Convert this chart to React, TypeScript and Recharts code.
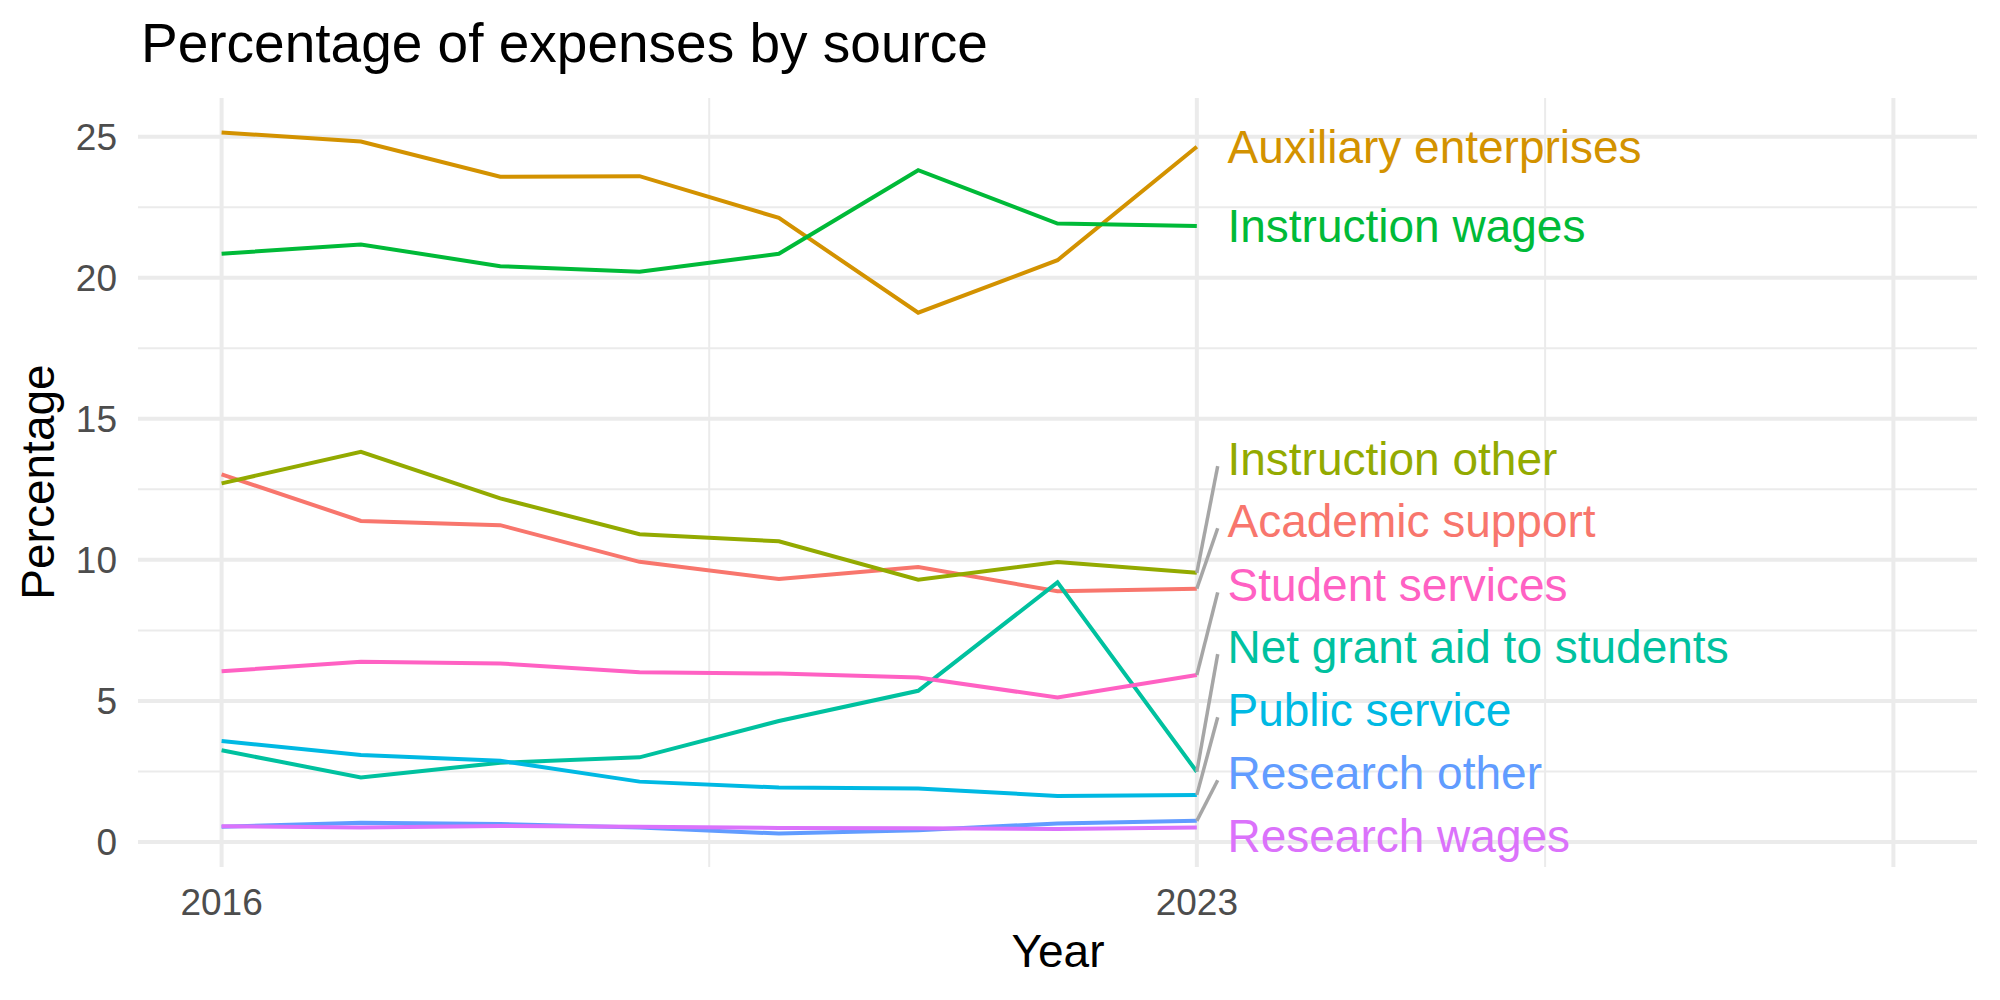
import React from "react";
import {
  CartesianGrid,
  Line,
  LineChart,
  ReferenceDot,
  ReferenceLine,
  XAxis,
  YAxis,
} from "recharts";

const FONT = "'Liberation Sans', Arial, Helvetica, sans-serif";

const years = [2016, 2017, 2018, 2019, 2020, 2021, 2022, 2023];
const academicSupport = [13.03, 11.38, 11.23, 9.93, 9.32, 9.75, 8.89, 8.98];
const auxiliaryEnterprises = [25.15, 24.83, 23.58, 23.6, 22.12, 18.76, 20.62, 24.64];
const instructionOther = [12.71, 13.83, 12.18, 10.91, 10.66, 9.3, 9.92, 9.54];
const instructionWages = [20.85, 21.18, 20.41, 20.21, 20.85, 23.81, 21.92, 21.83];
const netGrantAid = [3.25, 2.29, 2.81, 3.0, 4.29, 5.36, 9.2, 2.49];
const publicService = [3.58, 3.08, 2.88, 2.14, 1.93, 1.9, 1.63, 1.67];
const researchOther = [0.54, 0.68, 0.64, 0.51, 0.3, 0.42, 0.66, 0.75];
const researchWages = [0.56, 0.51, 0.57, 0.54, 0.5, 0.49, 0.46, 0.51];
const studentServices = [6.05, 6.39, 6.33, 6.02, 5.97, 5.83, 5.12, 5.92];

// where the repelled labels ended up (percentage units)
const labelY = [11.37, 24.63, 13.57, 21.83, 6.91, 4.67, 2.44, 0.21, 9.1];

const yTicks = [0, 5, 10, 15, 20, 25];
const yMinor = [2.5, 7.5, 12.5, 17.5, 22.5];
const xTicks = [2016, 2023];
const xMajor = [2016, 2023, 2028];
const xMinor = [2019.5, 2025.5];

const series = [
  { key: "academic", name: "Academic support", values: academicSupport, color: "#F8766D" },
  { key: "auxiliary", name: "Auxiliary enterprises", values: auxiliaryEnterprises, color: "#D39200" },
  { key: "instrOther", name: "Instruction other", values: instructionOther, color: "#93AA00" },
  { key: "instrWages", name: "Instruction wages", values: instructionWages, color: "#00BA38" },
  { key: "netGrant", name: "Net grant aid to students", values: netGrantAid, color: "#00C19F" },
  { key: "public", name: "Public service", values: publicService, color: "#00B9E3" },
  { key: "resOther", name: "Research other", values: researchOther, color: "#619CFF" },
  { key: "resWages", name: "Research wages", values: researchWages, color: "#DB72FB" },
  { key: "student", name: "Student services", values: studentServices, color: "#FF61C3" },
];

const data = years.map((year, i) => {
  const row: Record<string, number> = { year };
  series.forEach((s) => (row[s.key] = s.values[i]));
  return row;
});

const lastYear = years[years.length - 1];

export default function App() {
  return (
    <div
      style={{
        position: "absolute",
        left: 0,
        top: 0,
        width: 2000,
        height: 1000,
        background: "#fff",
        fontFamily: FONT,
      }}
    >
      <LineChart
        width={2000}
        height={1000}
        data={data}
        margin={{ top: 98, right: 23, bottom: 0, left: 0 }}
        accessibilityLayer={false}
      >
        <CartesianGrid
          stroke="#EBEBEB"
          strokeWidth={2}
          horizontalValues={yMinor}
          verticalValues={xMinor}
        />
        <CartesianGrid
          stroke="#EBEBEB"
          strokeWidth={4}
          horizontalValues={yTicks}
          verticalValues={xMajor}
        />
        <XAxis
          dataKey="year"
          type="number"
          domain={[2015.4, 2028.6]}
          ticks={xTicks}
          height={133}
          axisLine={false}
          tickLine={false}
          tickSize={0}
          tickMargin={22}
          tick={{ fill: "#4D4D4D", fontSize: 37, fontFamily: FONT }}
        />
        <YAxis
          type="number"
          domain={[-0.886, 26.37]}
          ticks={yTicks}
          width={138}
          axisLine={false}
          tickLine={false}
          tickSize={0}
          tickMargin={21}
          tick={{ fill: "#4D4D4D", fontSize: 37, fontFamily: FONT }}
        />
        {series.map((s) => (
          <Line
            key={s.key}
            dataKey={s.key}
            stroke={s.color}
            strokeWidth={4}
            dot={false}
            activeDot={false}
            isAnimationActive={false}
          />
        ))}
        {series.map((s, i) => {
          const end = s.values[s.values.length - 1];
          if (Math.abs(labelY[i] - end) < 0.5) return null;
          return (
            <ReferenceLine
              key={"seg-" + s.key}
              segment={[
                { x: lastYear, y: end },
                { x: lastYear + 0.15, y: labelY[i] - 0.25 },
              ]}
              stroke="#A6A6A6"
              strokeWidth={3.5}
              ifOverflow="visible"
            />
          );
        })}
        {series.map((s, i) => (
          <ReferenceDot
            key={"lab-" + s.key}
            x={lastYear + 0.22}
            y={labelY[i]}
            r={0}
            ifOverflow="visible"
            shape={(p: any) => (
              <text
                x={p.cx}
                y={p.cy + 16}
                fill={s.color}
                fontSize={46}
                fontFamily={FONT}
                textAnchor="start"
              >
                {s.name}
              </text>
            )}
          />
        ))}
      </LineChart>
      <svg
        width={2000}
        height={1000}
        style={{ position: "absolute", left: 0, top: 0, pointerEvents: "none" }}
      >
        <text x={141} y={62} fontSize={55} fill="#000" fontFamily={FONT}>
          Percentage of expenses by source
        </text>
        <text
          x={1058}
          y={967}
          fontSize={46}
          fill="#000"
          fontFamily={FONT}
          textAnchor="middle"
        >
          Year
        </text>
        <text
          transform="translate(54,482) rotate(-90)"
          fontSize={46}
          fill="#000"
          fontFamily={FONT}
          textAnchor="middle"
        >
          Percentage
        </text>
      </svg>
    </div>
  );
}
